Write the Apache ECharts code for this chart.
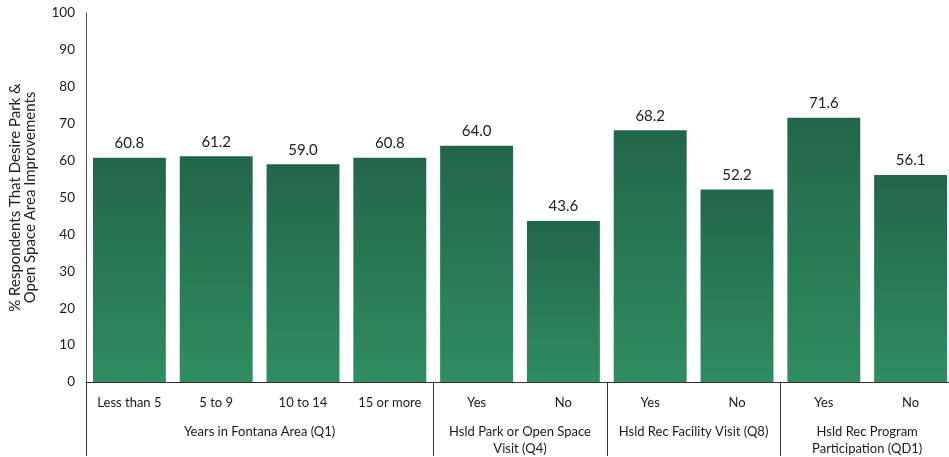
<!DOCTYPE html>
<html><head><meta charset="utf-8">
<script src="https://cdn.jsdelivr.net/npm/echarts@6/dist/echarts.min.js"></script>
<style>html,body{margin:0;padding:0;background:#fff;overflow:hidden}#c{width:957px;height:457px}</style>
</head><body><div id="c"></div>
<script>
const categories = ['Less than 5','5 to 9','10 to 14','15 or more','Yes','No','Yes','No','Yes','No'];
const values = [60.8, 61.2, 59.0, 60.8, 64.0, 43.6, 68.2, 52.2, 71.6, 56.1];
const groupLabels = ['Years in Fontana Area (Q1)','Hsld Park or Open Space\nVisit (Q4)','Hsld Rec Facility Visit (Q8)','Hsld Rec Program\nParticipation (QD1)'];
const groupSizes = [4, 2, 2, 2];
const yTicks = [0,10,20,30,40,50,60,70,80,90,100];
const yTitle = '% Respondents That Desire Park &\nOpen Space Area Improvements';

const boundaries = [];
const centers = {};
let acc = 0;
groupSizes.forEach((s, i) => { boundaries.push(acc); centers[acc + s / 2] = groupLabels[i]; acc += s; });

const font = 'Lato, "Open Sans", sans-serif';
const chart = echarts.init(document.getElementById('c'), null, {renderer: 'canvas'});
chart.setOption({
  animation: false,
  grid: {left: 86, top: 13, right: 1, bottom: 74, containLabel: false},
  xAxis: [{
    type: 'category',
    data: categories,
    axisLine: {show: true, lineStyle: {color: '#333', width: 1}},
    axisTick: {show: true, length: 74, lineStyle: {color: '#333'},
      interval: (idx) => boundaries.includes(idx)},
    axisLabel: {interval: 0, margin: 14, fontSize: 13, color: '#1a1a1a', fontFamily: font}
  }, {
    type: 'value',
    position: 'bottom',
    min: 0, max: categories.length, interval: 1,
    axisLine: {show: false}, axisTick: {show: false}, splitLine: {show: false},
    axisLabel: {show: true, margin: 41, fontSize: 13, lineHeight: 17, color: '#1a1a1a', fontFamily: font,
      showMinLabel: true, showMaxLabel: true,
      formatter: (v) => centers[v] || ''}
  }],
  yAxis: {
    type: 'value', min: 0, max: 100, interval: 10,
    name: yTitle, nameLocation: 'middle', nameGap: 48, nameRotate: 90,
    nameTextStyle: {fontSize: 15, lineHeight: 15, color: '#222', fontFamily: font},
    axisLine: {show: true, lineStyle: {color: '#555'}},
    axisTick: {show: false},
    splitLine: {show: false},
    axisLabel: {margin: 11, fontSize: 13.5, color: '#1a1a1a', fontFamily: font,
      formatter: (v) => yTicks.includes(v) ? String(v) : ''}
  },
  series: [{
    type: 'bar',
    data: values,
    barCategoryGap: '16%',
    itemStyle: {color: new echarts.graphic.LinearGradient(0, 0, 0, 1, [
      {offset: 0, color: '#22664a'}, {offset: 1, color: '#2f8d60'}])},
    label: {show: true, position: 'top', distance: 7, fontSize: 15, color: '#222', fontFamily: font,
      formatter: (p) => p.value.toFixed(1)}
  }]
});
</script></body></html>
